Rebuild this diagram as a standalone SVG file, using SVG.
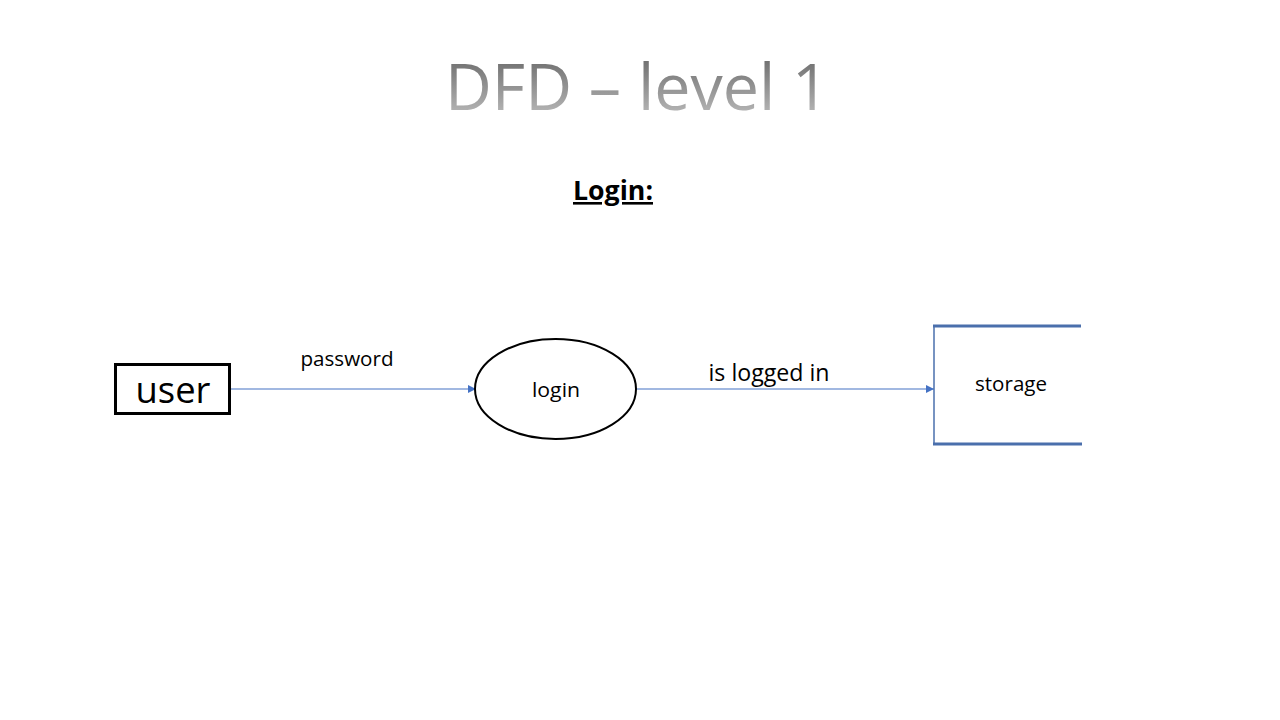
<svg xmlns="http://www.w3.org/2000/svg" width="1280" height="720" viewBox="0 0 1280 720">
<defs>
<linearGradient id="tg" x1="0" y1="0" x2="0" y2="1">
<stop offset="0" stop-color="#5a5a5a"/>
<stop offset="1" stop-color="#c8c8c8"/>
</linearGradient>
<marker id="arr" viewBox="0 0 10 10" refX="10" refY="5" markerWidth="8" markerHeight="8" markerUnits="userSpaceOnUse" orient="auto">
<path d="M0,0 L10,5 L0,10 z" fill="#4472c4"/>
</marker>
</defs>
<style>
text{font-family:"Open Sans","Liberation Sans",sans-serif;fill:#000}
.flow{stroke:#4472c4;stroke-width:1.2;fill:none}
.lbl{font-size:20px}
</style>
<rect width="1280" height="720" fill="#fff"/>
<text x="637" y="110" text-anchor="middle" font-size="64" font-weight="400" style="fill:url(#tg)" textLength="384" lengthAdjust="spacingAndGlyphs">DFD – level 1</text>
<text x="613" y="200" text-anchor="middle" font-size="26" font-weight="bold" text-decoration="underline" textLength="80" lengthAdjust="spacingAndGlyphs">Login:</text>
<g id="connectors">
<line class="flow" x1="231" y1="389" x2="476" y2="389" marker-end="url(#arr)"/>
<line class="flow" x1="636" y1="389" x2="934" y2="389" marker-end="url(#arr)"/>
<text class="lbl" x="347" y="366" text-anchor="middle" textLength="93" lengthAdjust="spacingAndGlyphs">password</text>
<text x="769" y="381" text-anchor="middle" font-size="23" textLength="121" lengthAdjust="spacingAndGlyphs">is logged in</text>
</g>
<g id="user">
<rect x="115.5" y="364.5" width="114" height="49" fill="#fff" stroke="#000" stroke-width="3"/>
<text x="173" y="403" text-anchor="middle" font-size="36" textLength="75" lengthAdjust="spacingAndGlyphs">user</text>
</g>
<g id="login">
<ellipse cx="555.5" cy="389" rx="80.5" ry="50" fill="#fff" stroke="#000" stroke-width="2"/>
<text class="lbl" x="556" y="397" text-anchor="middle" textLength="48" lengthAdjust="spacingAndGlyphs">login</text>
</g>
<g id="storage">
<line x1="934" y1="326" x2="934" y2="444" stroke="#4a6fac" stroke-width="1.5"/>
<line x1="933" y1="326" x2="1081" y2="326" stroke="#4a6fac" stroke-width="3"/>
<line x1="933" y1="444" x2="1082" y2="444" stroke="#4a6fac" stroke-width="3"/>
<text class="lbl" x="1011" y="391" text-anchor="middle" textLength="72" lengthAdjust="spacingAndGlyphs">storage</text>
</g>
</svg>
